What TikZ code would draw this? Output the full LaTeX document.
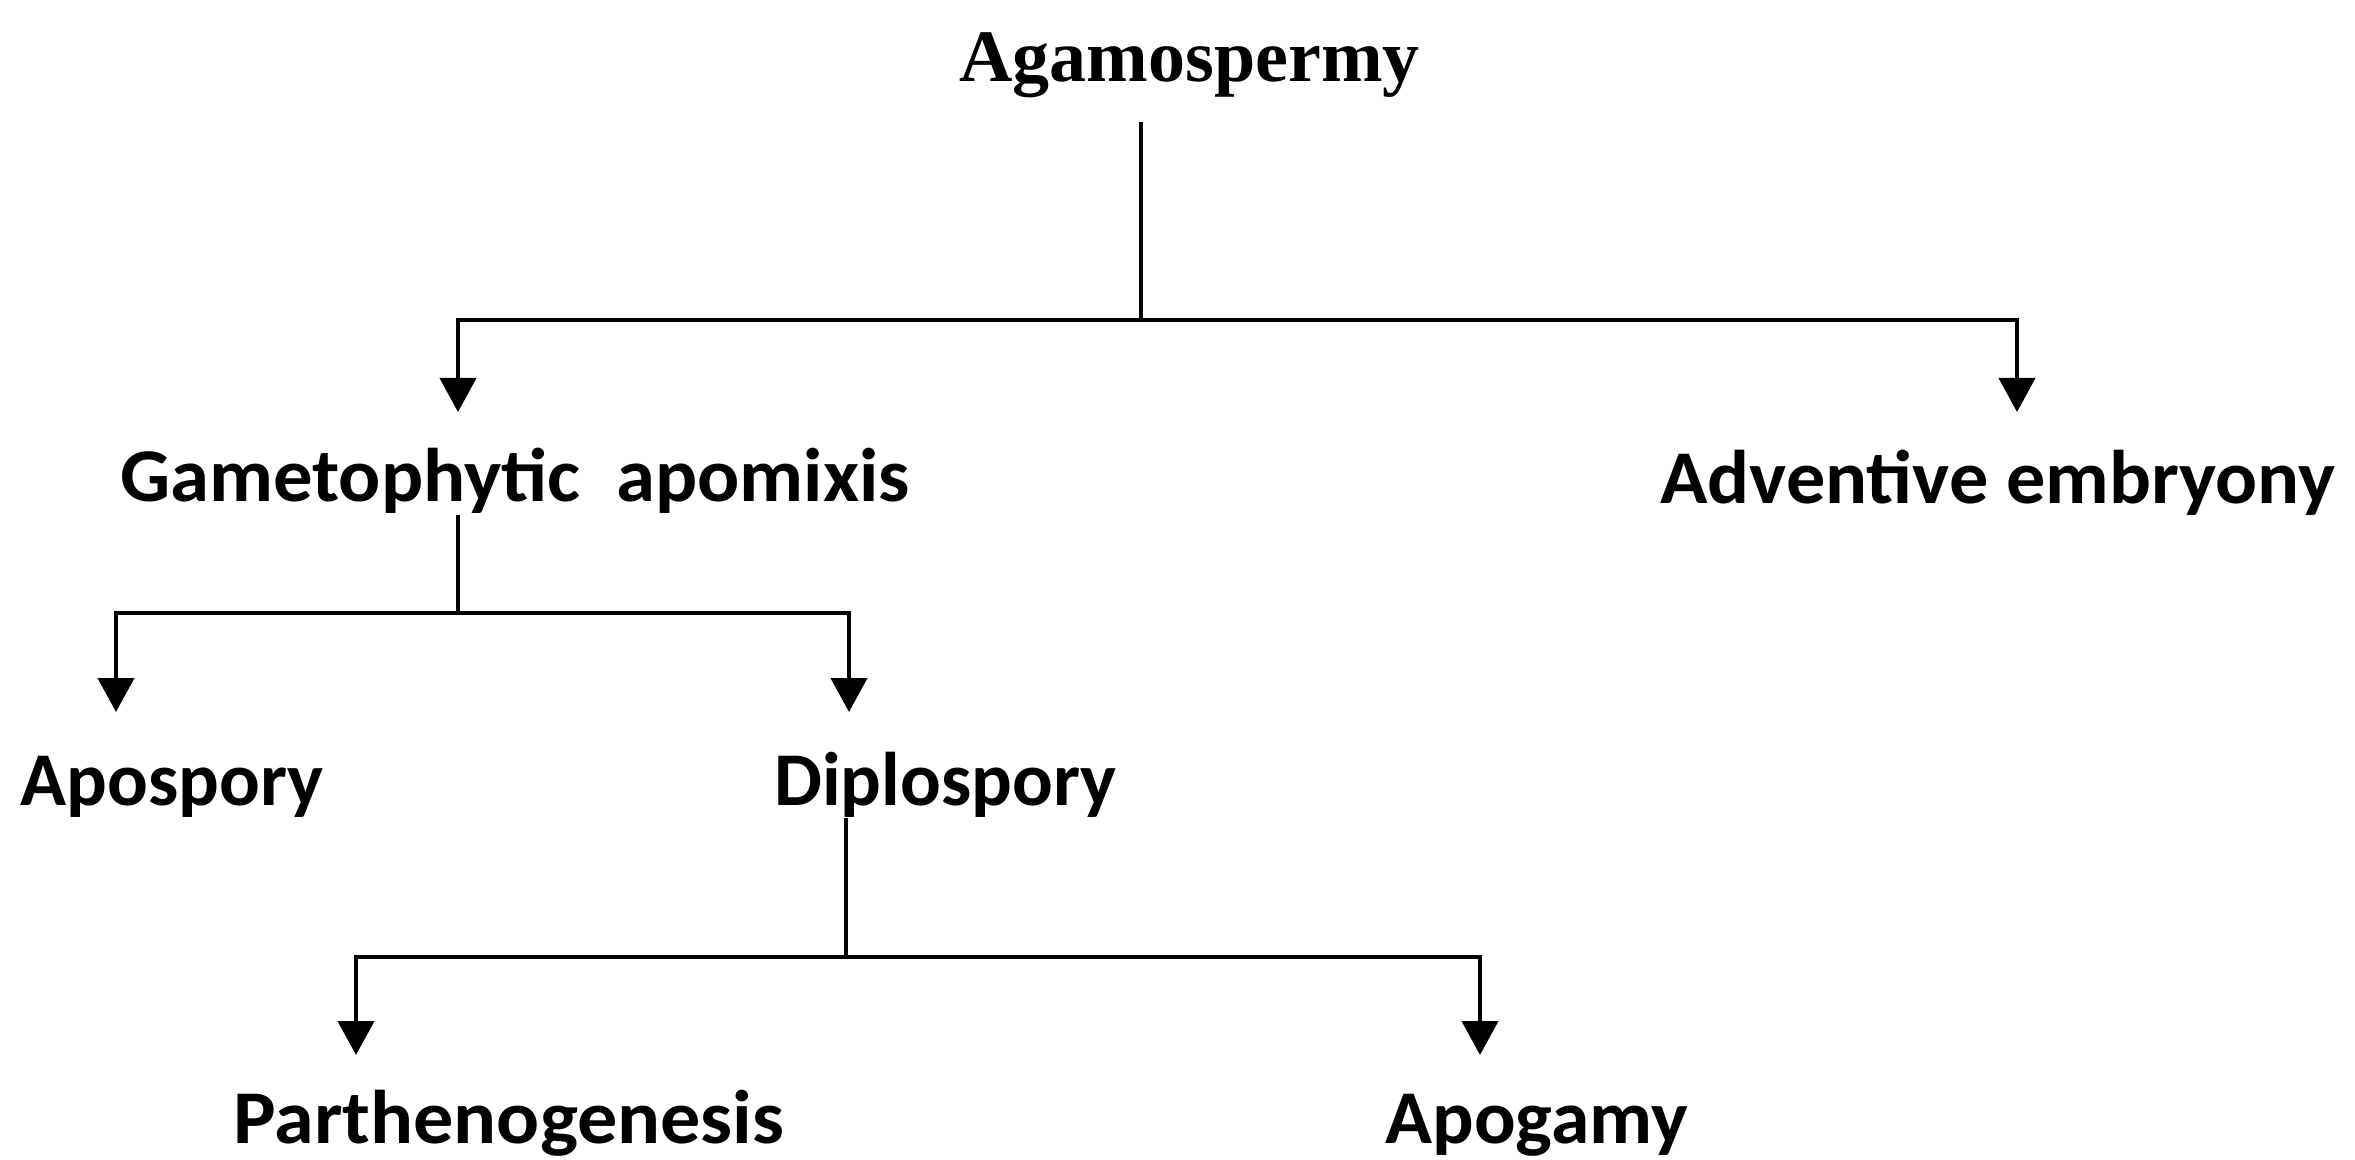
\documentclass[tikz,border=0pt]{standalone}
\usepackage{fontspec}
\setmainfont{Carlito}
\newfontfamily\agafont{Liberation Serif}
\usetikzlibrary{arrows.meta,calc}
\begin{document}
\begin{tikzpicture}[x=0.5pt,y=-0.5pt,
  lbl/.style={anchor=base west, inner sep=0pt, font=\fontsize{38}{40}\selectfont\bfseries},
  toplbl/.style={anchor=base west, inner sep=0pt, font=\agafont\fontsize{37}{40}\selectfont\bfseries},
  ln/.style={line width=2pt},
  arr/.style={line width=2pt, -{Triangle[length=17pt,width=18pt]}}]
\useasboundingbox[fill=white] (0,0) rectangle (2355,1160);

% nodes
\node[toplbl] (aga) at (959,82) {Agamospermy};
\node[lbl] (gam) at (120,502) {\scalebox{1.035}[1]{Gametophytic\ \ apomixis}};
\node[lbl] (adv) at (1660,503) {\scalebox{1.03}[1]{Adventive embryony}};
\node[lbl] (apo) at (20,805) {Apospory};
\node[lbl] (dip) at (774,805) {Diplospory};
\node[lbl] (par) at (233,1143) {\scalebox{1.055}[1]{Parthenogenesis}};
\node[lbl] (apg) at (1385,1143) {\scalebox{1.02}[1]{Apogamy}};

% junctions and arrow tips
\coordinate (j1) at (1141,320);
\coordinate (j2) at (458,613);
\coordinate (j3) at (846,957);
\coordinate (tgam) at (458,412);
\coordinate (tadv) at (2017,412);
\coordinate (tapo) at (116,712);
\coordinate (tdip) at (849,712);
\coordinate (tpar) at (356,1055);
\coordinate (tapg) at (1480,1055);

% connectors
\draw[ln] ($(aga.base -| j1)+(0,40)$) -- (j1);
\draw[arr] (j1) -| (tgam);
\draw[arr] (j1) -| (tadv);

\draw[ln] ($(gam.base -| j2)+(0,13)$) -- (j2);
\draw[arr] (j2) -| (tapo);
\draw[arr] (j2) -| (tdip);

\draw[ln] ($(dip.base -| j3)+(0,13)$) -- (j3);
\draw[arr] (j3) -| (tpar);
\draw[arr] (j3) -| (tapg);
\end{tikzpicture}
\end{document}
